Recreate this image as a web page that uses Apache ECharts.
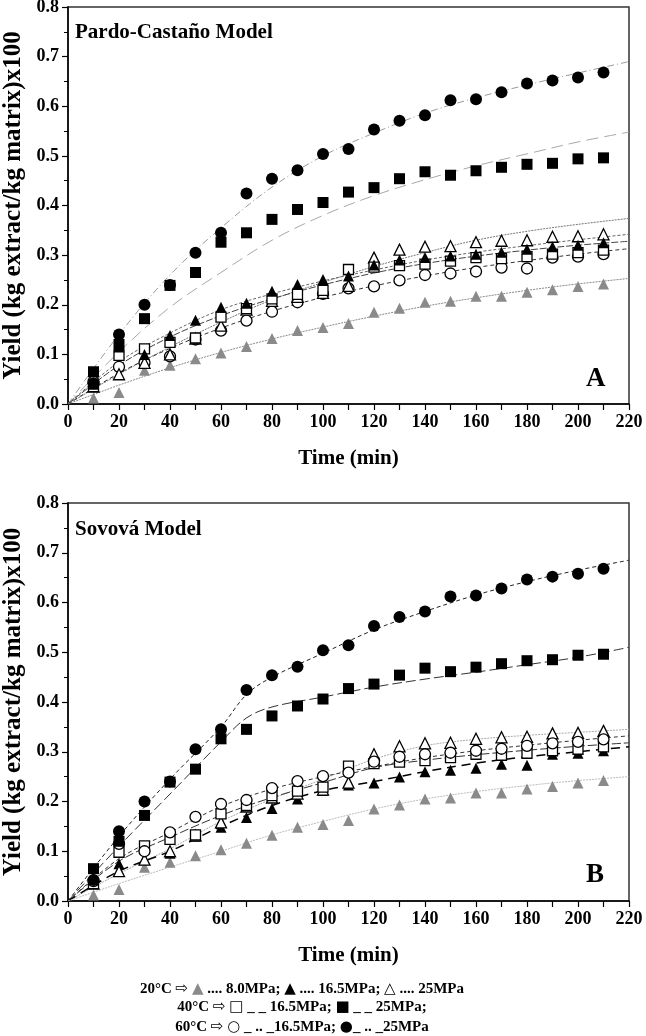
<!DOCTYPE html>
<html><head><meta charset="utf-8">
<script src="https://cdn.jsdelivr.net/npm/echarts@6/dist/echarts.min.js"></script>
<style>html,body{margin:0;padding:0;background:#fff}#c{width:646px;height:1036px}</style>
</head><body><div id="c"></div>
<script>
// ---------- experimental data (time in min, yield) ----------
const times = [10,20,30,40,50,60,70,80,90,100,110,120,130,140,150,160,170,180,190,200,210];
const y20C_8MPa   = [0.012,0.023,0.068,0.078,0.091,0.103,0.116,0.132,0.148,0.154,0.162,0.185,0.193,0.205,0.207,0.217,0.217,0.225,0.230,0.237,0.242];
const y20C_16MPa  = [0.040,0.115,0.100,0.138,0.169,0.195,0.203,0.227,0.241,0.251,0.258,0.280,0.290,0.295,0.298,0.302,0.306,0.312,0.317,0.320,0.325];
const y20C_25MPa  = [0.035,0.060,0.083,0.100,0.132,0.158,0.190,0.208,0.216,0.224,0.238,0.295,0.311,0.317,0.318,0.326,0.329,0.330,0.337,0.338,0.342];
const y40C_16MPa  = [0.035,0.098,0.111,0.124,0.133,0.175,0.192,0.212,0.221,0.229,0.271,0.276,0.279,0.282,0.288,0.295,0.293,0.297,0.302,0.305,0.310];
const y40C_25MPa  = [0.065,0.120,0.172,0.239,0.265,0.326,0.345,0.372,0.392,0.406,0.427,0.436,0.454,0.468,0.461,0.470,0.477,0.483,0.485,0.494,0.496];
const y60C_16MPa  = [0.045,0.075,0.083,0.096,0.130,0.148,0.168,0.186,0.205,0.222,0.233,0.237,0.249,0.260,0.263,0.267,0.275,0.273,0.295,0.297,0.302];
const y60C_25MPa  = [0.042,0.140,0.200,0.240,0.305,0.345,0.424,0.454,0.471,0.504,0.514,0.553,0.571,0.582,0.612,0.614,0.628,0.646,0.652,0.658,0.668];

// ---------- model curves ----------
const curveTimes = [0,20,40,60,80,100,120,140,160,180,200,220];
// Pardo-Castaño (panel A)
const pc20C_8MPa  = [0,0.038,0.073,0.104,0.131,0.155,0.177,0.197,0.214,0.229,0.242,0.253];
const pc20C_16MPa = [0,0.085,0.143,0.190,0.222,0.248,0.270,0.290,0.306,0.319,0.331,0.342];
const pc20C_25MPa = [0,0.060,0.115,0.165,0.210,0.245,0.277,0.305,0.330,0.348,0.362,0.374];
const pc40C_16MPa = [0,0.078,0.135,0.178,0.212,0.240,0.264,0.283,0.298,0.310,0.320,0.328];
const pc40C_25MPa = [0,0.105,0.195,0.265,0.330,0.380,0.420,0.452,0.480,0.504,0.528,0.548];
const pc60C_16MPa = [0,0.062,0.112,0.153,0.187,0.215,0.238,0.258,0.275,0.289,0.302,0.313];
const pc60C_25MPa = [0,0.140,0.260,0.355,0.437,0.500,0.546,0.586,0.617,0.643,0.667,0.690];
// Sovová (panel B)
const sovTimesHigh = [0,20,40,60,70,80,100,120,140,160,180,200,220];
const sv20C_8MPa  = [0,0.035,0.068,0.100,0.133,0.160,0.185,0.205,0.220,0.232,0.242,0.250];
const sv20C_16MPa = [0,0.085,0.138,0.190,0.225,0.250,0.270,0.288,0.302,0.313,0.323,0.332];
const sv20C_25MPa = [0,0.055,0.105,0.160,0.205,0.245,0.285,0.312,0.325,0.333,0.339,0.345];
const sv40C_16MPa = [0,0.080,0.128,0.172,0.208,0.238,0.268,0.283,0.294,0.303,0.311,0.318];
const sv60C_16MPa = [0,0.060,0.100,0.150,0.192,0.222,0.240,0.260,0.277,0.290,0.300,0.310];
const sv40C_25MPa = [0,0.110,0.215,0.320,0.368,0.390,0.410,0.430,0.446,0.460,0.475,0.490,0.510];
const sv60C_25MPa = [0,0.130,0.245,0.350,0.415,0.450,0.498,0.545,0.582,0.615,0.642,0.665,0.685];

const xTicks = {min:0, max:220, step:20};
const yTicks = {min:0, max:0.8, step:0.1};

const FONT = 'Liberation Serif';
const GRAY = '#8a8a8a';

function pairs(xs, ys){ return xs.map((x,i)=>[x, ys[i]]); }

function marks(g, ys, symbol, fill, size){
  const open = fill === 'open';
  return {
    type:'scatter', xAxisIndex:g, yAxisIndex:g, symbol, symbolSize:size,
    data: pairs(times, ys), z:5,
    itemStyle: open ? {color:'#fff', borderColor:'#000', borderWidth:1.3, opacity:1}
                    : {color:fill, borderWidth:0, opacity:1}
  };
}
function curve(g, xs, ys, color, dash, width){
  return {
    type:'line', xAxisIndex:g, yAxisIndex:g, data:pairs(xs, ys), smooth:0.35,
    showSymbol:false, silent:true, z:3,
    lineStyle:{color, width:width||1, type:dash}
  };
}

function axes(g){
  const lab = {fontFamily:FONT, fontWeight:'bold', fontSize:18, color:'#000'};
  return {
    x:{gridIndex:g, type:'value', min:xTicks.min, max:xTicks.max, interval:xTicks.step,
       axisLine:{show:true, onZero:false, lineStyle:{color:'#000', width:1.5}},
       axisTick:{show:true, length:6, lineStyle:{color:'#000', width:1.2}},
       minorTick:{show:true, splitNumber:2, length:6, lineStyle:{color:'#000', width:1.2}},
       splitLine:{show:false},
       axisLabel:{...lab, margin:9},
       name:'Time (min)', nameLocation:'middle', nameGap:44,
       nameTextStyle:{fontFamily:FONT, fontWeight:'bold', fontSize:21, color:'#000'}},
    y:{gridIndex:g, type:'value', min:yTicks.min, max:yTicks.max, interval:yTicks.step,
       axisLine:{show:true, onZero:false, lineStyle:{color:'#000', width:1.5}},
       axisTick:{show:true, length:6, lineStyle:{color:'#000', width:1.2}},
       minorTick:{show:true, splitNumber:2, length:4, lineStyle:{color:'#000', width:1}},
       splitLine:{show:false},
       axisLabel:{...lab, margin:9, formatter:v=>v.toFixed(1)},
       name:'Yield (kg extract/kg matrix)x100', nameLocation:'middle', nameGap:40,
       nameTextStyle:{fontFamily:FONT, fontWeight:'bold', fontSize:25, color:'#000'}}
  };
}
const a0 = axes(0), a1 = axes(1);

const series = [
  // Panel A curves (Pardo-Castaño)
  curve(0, curveTimes, pc60C_25MPa, '#9a9a9a', [7,3,1,3]),
  curve(0, curveTimes, pc40C_25MPa, '#a8a8a8', [12,6]),
  curve(0, curveTimes, pc20C_25MPa, '#777', [2,1]),
  curve(0, curveTimes, pc20C_16MPa, '#666', [3,2]),
  curve(0, curveTimes, pc40C_16MPa, '#444', [7,2]),
  curve(0, curveTimes, pc60C_16MPa, '#333', [4,3]),
  curve(0, curveTimes, pc20C_8MPa, '#888', [2,1]),
  // Panel A markers
  marks(0, y20C_8MPa, 'triangle', GRAY, 11),
  marks(0, y60C_16MPa, 'circle', 'open', 11),
  marks(0, y20C_25MPa, 'triangle', 'open', 11),
  marks(0, y40C_16MPa, 'rect', 'open', 10),
  marks(0, y20C_16MPa, 'triangle', '#000', 11),
  marks(0, y60C_25MPa, 'circle', '#000', 12),
  marks(0, y40C_25MPa, 'rect', '#000', 11),
  // Panel B curves (Sovová)
  curve(1, sovTimesHigh, sv60C_25MPa, '#222', [4,3]),
  curve(1, sovTimesHigh, sv40C_25MPa, '#333', [10,4]),
  curve(1, curveTimes, sv20C_25MPa, '#aaa', [2,1]),
  curve(1, curveTimes, sv20C_16MPa, '#333', [4,3]),
  curve(1, curveTimes, sv40C_16MPa, '#333', [9,3]),
  curve(1, curveTimes, sv60C_16MPa, '#000', [9,6], 1.5),
  curve(1, curveTimes, sv20C_8MPa, '#bbb', [2,1]),
  // Panel B markers (as drawn in the figure)
  marks(1, y20C_8MPa, 'triangle', GRAY, 11),
  marks(1, y60C_16MPa, 'triangle', '#000', 11),
  marks(1, y20C_25MPa, 'triangle', 'open', 11),
  marks(1, y40C_16MPa, 'rect', 'open', 10),
  marks(1, y20C_16MPa, 'circle', 'open', 11),
  marks(1, y60C_25MPa, 'circle', '#000', 12),
  marks(1, y40C_25MPa, 'rect', '#000', 11),
];

const txt = (x, y, text, size, align) => ({
  type:'text', left:x, top:y, z:10,
  style:{text, fontFamily:FONT, fontWeight:'bold', fontSize:size, fill:'#000', textAlign:align||'left'}
});
const legRich = {
  g:{fill:GRAY, fontSize:15, fontFamily:'DejaVu Sans'},
  k:{fill:'#000', fontSize:15, fontFamily:'DejaVu Sans'},
  s:{fill:'#000', fontSize:15, fontFamily:'DejaVu Sans'},
  t:{fill:'#000', fontSize:15, fontFamily:FONT, fontWeight:'bold'}
};
const legLine = (y, text) => ({
  type:'text', x:302, y, z:10,
  style:{text, rich:legRich, textAlign:'center', textVerticalAlign:'middle',
         fontFamily:FONT, fontWeight:'bold', fontSize:15, fill:'#000'}
});

const gridBase = {left:68, width:561, show:true, borderColor:'#333', borderWidth:1.5,
                  backgroundColor:'transparent', containLabel:false, outerBoundsMode:'none'};

const chart = echarts.init(document.getElementById('c'), null, {renderer:'canvas'});
chart.setOption({
  animation:false,
  backgroundColor:'#fff',
  grid:[
    {...gridBase, top:7, height:397},
    {...gridBase, top:503, height:398}
  ],
  xAxis:[a0.x, a1.x],
  yAxis:[a0.y, a1.y],
  series,
  graphic:[
    txt(75, 22, 'Pardo-Castaño Model', 21),
    txt(75, 519, 'Sovová Model', 21),
    txt(586, 366, 'A', 27),
    txt(586, 862, 'B', 27),
    legLine(989, '{t|20°C }{s|⇨} {g|▲}{t| .... 8.0MPa; }{k|▲}{t| .... 16.5MPa; }{k|△}{t| .... 25MPa}'),
    legLine(1007, '{t|40°C }{s|⇨} {k|□}{t| _ _ 16.5MPa; }{k|■}{t| _ _ 25MPa;}'),
    legLine(1027, '{t|60°C }{s|⇨} {k|○}{t| _ .. _16.5MPa; }{k|●}{t|_ .. _25MPa}')
  ]
});
</script></body></html>
